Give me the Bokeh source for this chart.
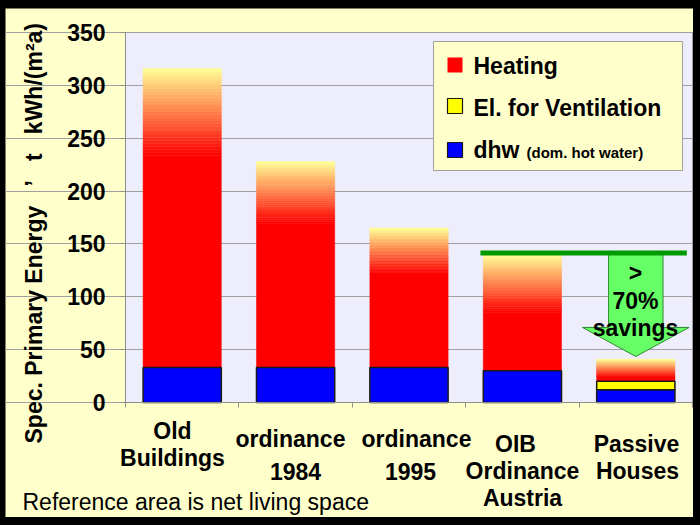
import math
from bokeh.plotting import figure
from bokeh.models import Label, BoxAnnotation, Range1d, FixedTicker
from bokeh.embed import file_html
from bokeh.resources import INLINE

# ---------------- data ----------------
categories = ["Old Buildings", "ordinance 1984", "ordinance 1995",
              "OIB Ordinance Austria", "Passive Houses"]
dhw = [33, 33, 33, 30, 12]
ventilation = [0, 0, 0, 0, 8]
heating = [283, 195, 132, 110, 21]
y_ticks = [0, 50, 100, 150, 200, 250, 300, 350]
legend_names = ["Heating", "El. for Ventilation", "dhw"]
legend_note = "(dom. hot water)"
arrow_lines = [">", "70%", "savings"]
SP = "\u00a0"
y_title = ("Spec. Primary Energy" + SP * 3 + "\u2019" + SP * 3 + "t" + SP * 3
           + "kWh/(m\u00b2a)")
footnote = "Reference area is net living space"

# ---------------- style / layout ----------------
FONT = "Liberation Sans"
BAR_W = 0.69
fade_share = [0.29, 0.30, 0.32, 0.50, 0.80]
N_SLICES = 30
RED = (255, 0, 0)
PALE = (255, 255, 150)
PAGE_X0, PAGE_Y0, FIG_W, FIG_H = 5, 8, 688, 509   # figure placement on the page
PX_PER_X = 567 / 5            # plot area page x 125..692 holds 5 categories
PX_PER_Y = 370 / 350          # plot area page y 402..32 holds 0..350

def dx(px):
    return (px - 125) / PX_PER_X

def dy(py):
    return (402 - py) / PX_PER_Y

x_rng = Range1d(dx(PAGE_X0), dx(PAGE_X0 + FIG_W))
y_rng = Range1d(dy(PAGE_Y0 + FIG_H), dy(PAGE_Y0))

p = figure(frame_width=FIG_W, frame_height=FIG_H, x_range=x_rng, y_range=y_rng,
           output_backend="svg", toolbar_location=None,
           min_border_left=0, min_border_right=0, min_border_top=0, min_border_bottom=0)
p.background_fill_color = "#FFFFCC"
p.border_fill_color = "#FFFFCC"
p.outline_line_color = None

# plot area (lavender) behind the grid
p.add_layout(BoxAnnotation(left=0, right=len(categories), bottom=0, top=y_ticks[-1],
                           fill_color="#EDEDFC", fill_alpha=1.0,
                           line_color="#A0A0A0", line_alpha=1.0, line_width=1,
                           level="image"))

p.xgrid.grid_line_color = None
p.ygrid.grid_line_color = "#A0A0A0"
p.ygrid.ticker = FixedTicker(ticks=y_ticks)
p.ygrid.bounds = (0, len(categories))

p.yaxis.ticker = FixedTicker(ticks=y_ticks)
p.yaxis.fixed_location = 0
p.yaxis.bounds = (0, y_ticks[-1])
p.xaxis.ticker = FixedTicker(ticks=list(range(len(categories) + 1)))
p.xaxis.fixed_location = 0
p.xaxis.bounds = (0, len(categories))
p.xaxis.major_label_overrides = {i: "" for i in range(len(categories) + 1)}
p.xaxis.major_label_text_font_size = "0px"
for ax in (p.xaxis, p.yaxis):
    ax.axis_line_color = "#8E8E8E"
    ax.major_tick_line_color = "#8E8E8E"
    ax.major_tick_in = 0
    ax.major_tick_out = 5
    ax.minor_tick_line_color = None
p.yaxis.major_label_text_font = FONT
p.yaxis.major_label_text_font_style = "bold"
p.yaxis.major_label_text_font_size = "23px"
p.yaxis.major_label_text_color = "black"
p.yaxis.major_label_standoff = 15

# ---------------- bars ----------------
xs = [i + 0.5 for i in range(len(categories))]
lefts = [x - BAR_W / 2 for x in xs]
rights = [x + BAR_W / 2 for x in xs]
base_h = [d + v for d, v in zip(dhw, ventilation)]
totals = [b + h for b, h in zip(base_h, heating)]

solid_top = [t - f * h for t, f, h in zip(totals, fade_share, heating)]
p.quad(left=lefts, right=rights, bottom=base_h, top=solid_top,
       fill_color="#FF0000", line_color="#FF0000", line_width=0.5)

gl, gr, gb, gt, gc = [], [], [], [], []
for i in range(len(categories)):
    h0 = solid_top[i]
    span = totals[i] - h0
    for k in range(N_SLICES):
        t = (k + 0.5) / N_SLICES
        c = tuple(int(round(RED[j] + (PALE[j] - RED[j]) * t)) for j in range(3))
        gl.append(lefts[i]); gr.append(rights[i])
        gb.append(h0 + span * k / N_SLICES)
        gt.append(h0 + span * (k + 1) / N_SLICES)
        gc.append("#%02x%02x%02x" % c)
p.quad(left=gl, right=gr, bottom=gb, top=gt, fill_color=gc, line_color=gc, line_width=0.5)

p.quad(left=lefts, right=rights, bottom=[0] * len(dhw), top=dhw,
       fill_color="#0000FF", line_color="#1A1A1A", line_width=1.5)
vi = [i for i, v in enumerate(ventilation) if v > 0]
p.quad(left=[lefts[i] for i in vi], right=[rights[i] for i in vi],
       bottom=[dhw[i] for i in vi], top=[base_h[i] for i in vi],
       fill_color="#FFFF00", line_color="#1A1A1A", line_width=1.5)

# ---------------- savings arrow ----------------
ref_level = totals[3]
cx = xs[4]
tip = totals[4] + 2.5
head_base = tip + 27.5
shaft_hw, head_hw = 0.24, 0.47
p.patch(x=[cx - shaft_hw, cx + shaft_hw, cx + shaft_hw, cx + head_hw, cx,
           cx - head_hw, cx - shaft_hw],
        y=[ref_level, ref_level, head_base, head_base, tip, head_base, head_base],
        fill_color="#66FF66", line_color="#2E8B2E", line_width=1)
p.line(x=[xs[3] - 0.37, 4.95], y=[ref_level + 1.5, ref_level + 1.5],
       line_color="#009900", line_width=5)

for txt, py in zip(arrow_lines, [272, 300, 327]):
    p.add_layout(Label(x=dx(635), y=dy(py), text=txt, text_align="center",
                       text_baseline="middle", text_font=FONT, text_font_style="bold",
                       text_font_size="23px", text_color="black"))

# ---------------- legend ----------------
p.add_layout(BoxAnnotation(left=dx(433), right=dx(682), top=dy(41), bottom=dy(170),
                           fill_color="#FFFFCC", fill_alpha=1.0,
                           line_color="#A0A0A0", line_alpha=1.0, line_width=1))
sq_cols = ["#FF0000", "#FFFF00", "#0000FF"]
sq_lines = [None, "#1A1A1A", "#1A1A1A"]
sq_tops = [57, 98, 142]
centers = [65, 107, 149]
for name, col, lc, st, cy in zip(legend_names, sq_cols, sq_lines, sq_tops, centers):
    p.add_layout(BoxAnnotation(left=dx(447), right=dx(462), top=dy(st), bottom=dy(st + 15),
                               fill_color=col, fill_alpha=1.0,
                               line_color=lc, line_alpha=1.0, line_width=1.2))
    p.add_layout(Label(x=dx(473), y=dy(cy), text=name, text_baseline="middle",
                       text_font=FONT, text_font_style="bold", text_font_size="23px",
                       text_color="black"))
p.add_layout(Label(x=dx(526), y=dy(152), text=legend_note, text_baseline="middle",
                   text_font=FONT, text_font_style="bold", text_font_size="15px",
                   text_color="black"))

# ---------------- category labels ----------------
cat_lines = [["Old", "Buildings"], ["ordinance", "1984"], ["ordinance", "1995"],
             ["OIB", "Ordinance", "Austria"], ["Passive", "Houses"]]
cat_px = [[172, 172], [290, 295], [416, 410], [515, 522, 522], [636, 637]]
cat_py = [[430, 457], [438, 471], [438, 471], [443, 470, 497], [443, 470]]
for lines, pxs, pys in zip(cat_lines, cat_px, cat_py):
    for t, px, py in zip(lines, pxs, pys):
        p.add_layout(Label(x=dx(px), y=dy(py), text=t, text_align="center",
                           text_baseline="middle", text_font=FONT, text_font_style="bold",
                           text_font_size="23px", text_color="black"))

# ---------------- axis title & footnote ----------------
p.add_layout(Label(x=dx(33), y=dy(443), text=y_title, angle=math.pi / 2,
                   text_align="left", text_baseline="middle", text_font=FONT,
                   text_font_style="bold", text_font_size="23px", text_color="black"))
p.add_layout(Label(x=dx(22), y=dy(501), text=footnote, text_baseline="middle",
                   text_font=FONT, text_font_size="23px", text_color="black"))

html = file_html(p, INLINE)
html = html.replace("</head>",
                    "<style>html,body{background:#000;}body{margin:8px 0 0 5px;}</style></head>", 1)
open("out.html", "w").write(html)
